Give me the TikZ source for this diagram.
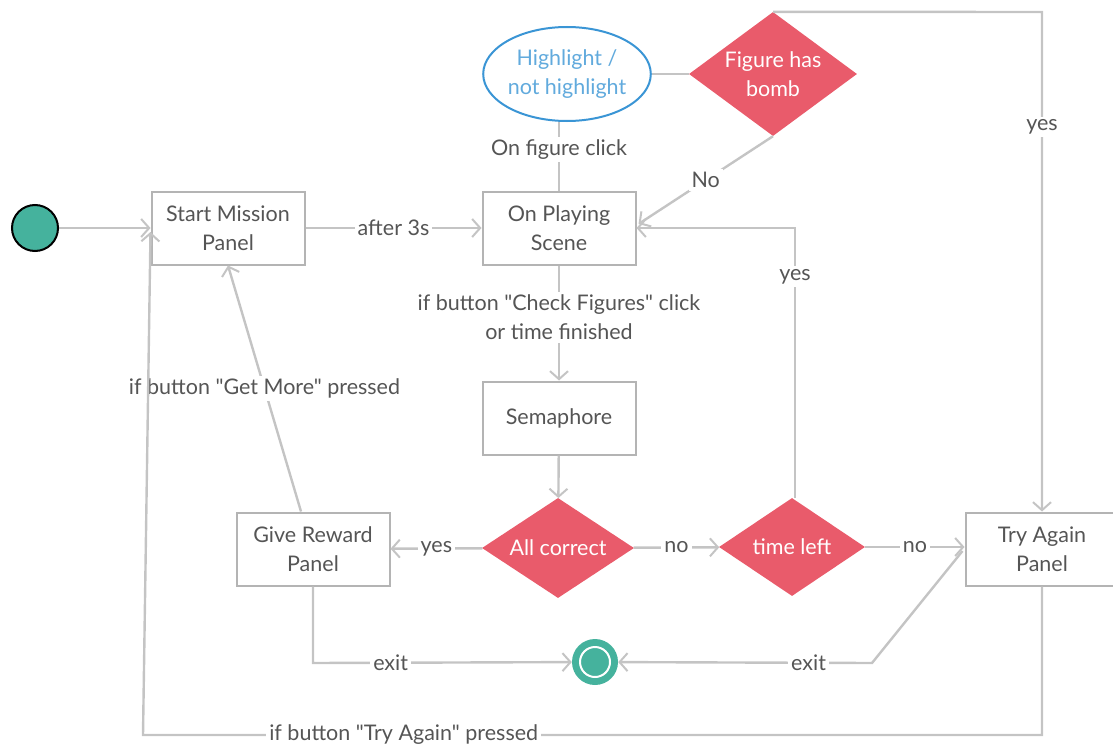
\documentclass[tikz,border=0pt]{standalone}
\usepackage{fontspec}
\setmainfont{Lato}[Ligatures=TeXOff]
\usetikzlibrary{arrows.meta,shapes.geometric,calc}
\definecolor{txt}{HTML}{555555}
\definecolor{ln}{HTML}{C4C4C4}
\definecolor{boxln}{HTML}{B4B4B4}
\definecolor{red}{HTML}{E95B6B}
\definecolor{teal}{HTML}{45B29D}
\definecolor{blue}{HTML}{3A95D5}
\begin{document}
\begin{tikzpicture}[x=1pt,y=-1pt,
  font=\fontsize{21.5}{29}\selectfont, text=txt,
  box/.style={draw=boxln, line width=2pt, minimum width=153pt, minimum height=73pt, align=center, fill=white},
  dia/.style={diamond, fill=red, inner sep=0pt},
  diatext/.style={text=white, align=center, inner sep=0pt},
  conn/.style={draw=ln, line width=2.4pt, -{Straight Barb[length=8pt,width=18pt,line width=2pt]}},
  plain/.style={draw=ln, line width=2.4pt},
  lab/.style={fill=white, inner sep=3pt, align=center}]
\useasboundingbox (0,0) rectangle (1113,752);
% nodes
\node[circle, fill=teal, draw=black, line width=2pt, minimum size=46pt, inner sep=0pt] (start) at (35,228) {};
\node[box] (smp) at (228,228) {Start Mission\\Panel};
\node[box] (ops) at (559,228) {On Playing\\Scene};
\node[ellipse, draw=blue, line width=2pt, text=blue!80!white, minimum width=160pt, minimum height=94pt, align=center, inner sep=0pt, fill=white] (hl) at (567,74) {Highlight /\\not highlight};
\node[dia, minimum width=168pt, minimum height=124pt] (fhb) at (773,74) {};
\node[diatext] (fhbt) at (fhb) {Figure has\\bomb};
\node[box] (sem) at (559,418) {Semaphore};
\node[dia, minimum width=152pt, minimum height=100pt] (ac) at (558,548) {};
\node[diatext] (act) at (ac) {All correct};
\node[dia, minimum width=146pt, minimum height=98pt] (tl) at (792,547) {};
\node[diatext] (tlt) at (tl) {time left};
\node[box] (grp) at (313,549) {Give Reward\\Panel};
\node[box] (tap) at (1042,549) {Try Again\\Panel};
\node[circle, fill=teal, minimum size=46pt, inner sep=0pt] (end) at (595,662) {};
\node[circle, draw=white, line width=2pt, minimum size=30pt, inner sep=0pt] (endring) at (end.center) {};
% coordinates
\coordinate (c1) at (1042,12);
\coordinate (c2) at (795,228);
\coordinate (c3) at (313,663);
\coordinate (c4) at (872,663);
\coordinate (c5) at (1042,735);
\coordinate (c6) at (143,735);
% connectors
\draw[conn] (start) -- (smp.west |- start);
\draw[conn] (smp) -- node[lab]{after 3s} (ops);
\draw[plain] (hl.south -| ops.north) -- node[lab, pos=0.4]{On figure click} (ops.north);
\draw[plain] (hl) -- (fhb);
\draw[conn] (fhb.south) -- node[lab, pos=0.5]{No} ($(ops.east)+(2,-4)$);
\draw[conn] (fhb.north) -- (c1) -- node[lab, pos=0.23]{yes} (tap.north);
\draw[conn] (ops) -- node[lab, pos=0.45]{if button "Check Figures" click\\or time finished} (sem);
\draw[conn] (sem) -- (ac);
\draw[conn] (ac) -- node[lab]{yes} (grp);
\draw[conn] (ac) -- node[lab]{no} (tl);
\draw[conn] (tl.north -| c2) -- node[lab, pos=0.82]{yes} (c2) -- (ops.east);
\draw[conn] (tl) -- node[lab]{no} (tap.west |- tl);
\draw[conn] (grp.south) -- (c3) -- node[lab, pos=0.3]{exit} (end);
\draw[conn] ($(tap.west)+(-2,2)$) -- (c4) -- node[lab, pos=0.25]{exit} (end);
\draw[conn] ($(grp.north)+(-12,0)$) -- node[lab, pos=0.5]{if button "Get More" pressed} (smp.south);
\draw[conn] (tap.south) -- (c5) -- node[lab, pos=0.71]{if button "Try Again" pressed} (c6) -- ($(smp.west)+(0,4)$);
\end{tikzpicture}
\end{document}
